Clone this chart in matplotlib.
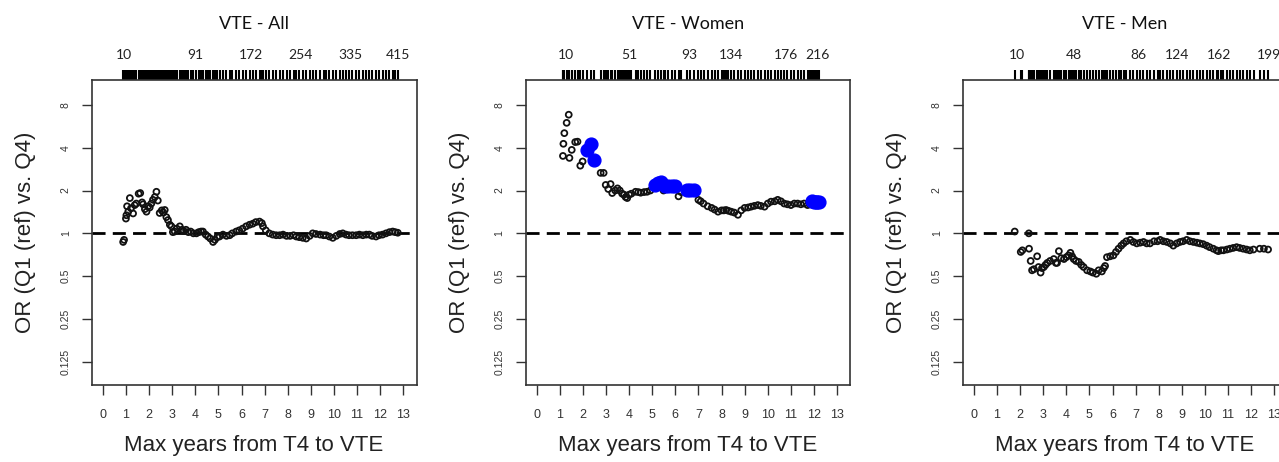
import matplotlib.pyplot as plt
import matplotlib.transforms as mtransforms
import numpy as np


# VTE - All : max years (x) and OR estimates (y)
all_years = [
    0.88, 0.92, 1.00, 1.02, 1.05, 1.10, 1.17, 1.22, 1.31, 1.38, 1.45, 1.55,
    1.62, 1.70, 1.74, 1.82, 1.89, 1.96, 2.03, 2.10, 2.17, 2.25, 2.32, 2.38,
    2.46, 2.55, 2.62, 2.68, 2.75, 2.82, 2.90, 2.97, 3.03, 3.11, 3.20, 3.33,
    3.42, 3.50, 3.60, 3.70, 3.80, 3.92, 4.05, 4.15, 4.25, 4.33, 4.45, 4.55,
    4.65, 4.77, 4.85, 4.95, 5.05, 5.20, 5.35, 5.49, 5.60, 5.77, 5.90, 6.05,
    6.20, 6.35, 6.49, 6.62, 6.78, 6.88, 6.93, 7.05, 7.20, 7.35, 7.50, 7.65,
    7.80, 7.95, 8.10, 8.25, 8.37, 8.50, 8.65, 8.80, 8.95, 9.08, 9.22, 9.40,
    9.55, 9.66, 9.80, 9.95, 10.10, 10.25, 10.38, 10.52, 10.65, 10.80, 10.96,
    11.10, 11.25, 11.40, 11.53, 11.65, 11.82, 11.95, 12.10, 12.25, 12.40,
    12.54, 12.65, 12.76
]
all_or = [
    0.87, 0.90, 1.27, 1.34, 1.55, 1.42, 1.77, 1.50, 1.38, 1.58, 1.62, 1.90,
    1.92, 1.65, 1.60, 1.48, 1.42, 1.55, 1.52, 1.62, 1.72, 1.80, 1.96, 1.70,
    1.39, 1.45, 1.40, 1.46, 1.30, 1.24, 1.15, 1.12, 1.02, 1.03, 1.08, 1.12,
    1.06, 1.04, 1.06, 1.02, 1.03, 1.00, 1.00, 1.02, 1.03, 1.03, 0.98, 0.95,
    0.92, 0.87, 0.90, 0.94, 0.95, 0.98, 0.96, 0.97, 1.00, 1.03, 1.05, 1.08,
    1.12, 1.15, 1.17, 1.20, 1.21, 1.18, 1.12, 1.05, 1.00, 0.98, 0.97, 0.97,
    0.98, 0.96, 0.96, 0.97, 0.95, 0.94, 0.93, 0.92, 0.96, 1.00, 0.99, 0.98,
    0.97, 0.97, 0.95, 0.93, 0.96, 0.99, 1.00, 0.98, 0.97, 0.97, 0.97,
    0.98, 0.97, 0.98, 0.98, 0.96, 0.95, 0.97, 0.98, 1.00, 1.02,
    1.03, 1.02, 1.01
]

# VTE - Women
women_years = [
    1.14, 1.16, 1.20, 1.30, 1.39, 1.42, 1.52, 1.67, 1.77, 1.89, 1.99, 2.77,
    2.90, 2.99, 3.10, 3.20, 3.27, 3.40, 3.50, 3.60, 3.70, 3.78, 3.85, 3.92,
    4.00, 4.10, 4.28, 4.40, 4.50, 4.65, 4.78, 4.92, 5.49, 6.14, 6.25, 7.00,
    7.10, 7.22, 7.40, 7.57, 7.70, 7.85, 8.00, 8.10, 8.20, 8.30, 8.42, 8.55,
    8.71, 8.85, 9.00, 9.15, 9.28, 9.42, 9.57, 9.70, 9.86, 10.00, 10.14,
    10.30, 10.43, 10.57, 10.71, 10.85, 11.00, 11.15, 11.29, 11.43, 11.57,
    11.72, 11.82
]
women_or = [
    3.50, 4.26, 5.06, 5.98, 6.82, 3.39, 3.86, 4.38, 4.41, 2.99, 3.20, 2.66,
    2.66, 2.19, 2.05, 2.22, 1.92, 2.00, 2.07, 2.00, 1.90, 1.87, 1.80, 1.77,
    1.87, 1.90, 1.96, 1.95, 1.93, 1.95, 1.96, 2.00, 2.00, 1.82, 1.95, 1.72,
    1.68, 1.62, 1.55, 1.51, 1.47, 1.42, 1.45, 1.45, 1.46, 1.44, 1.42, 1.40,
    1.35, 1.45, 1.51, 1.52, 1.54, 1.56, 1.58, 1.56, 1.54, 1.62, 1.67,
    1.68, 1.72, 1.68, 1.62, 1.60, 1.58, 1.62, 1.62, 1.60, 1.62,
    1.58, 1.60
]
# significant estimates (blue)
women_sig_years = [2.20, 2.35, 2.49, 5.14, 5.27, 5.39, 5.56, 5.70, 5.85, 5.99,
                   6.49, 6.64, 6.82, 11.93, 12.00, 12.07, 12.15, 12.22]
women_sig_or = [3.86, 4.23, 3.29, 2.19, 2.25, 2.28, 2.14, 2.14, 2.14, 2.14,
                2.01, 2.01, 2.03, 1.69, 1.66, 1.65, 1.65, 1.65]

# VTE - Men
men_years = [
    1.77, 2.03, 2.10, 2.38, 2.39, 2.46, 2.52, 2.60, 2.74, 2.80, 2.89, 2.95,
    3.03, 3.10, 3.18, 3.30, 3.46, 3.55, 3.60, 3.68, 3.78, 3.90, 4.00, 4.10,
    4.18, 4.25, 4.32, 4.42, 4.54, 4.65, 4.75, 4.90, 5.04, 5.15, 5.30, 5.40,
    5.54, 5.62, 5.68, 5.76, 5.90, 6.04, 6.15, 6.26, 6.38, 6.48, 6.60, 6.77,
    6.90, 7.05, 7.20, 7.34, 7.48, 7.62, 7.80, 7.95, 8.06, 8.20, 8.35, 8.50,
    8.63, 8.78, 8.92, 9.05, 9.21, 9.35, 9.50, 9.65, 9.78, 9.92, 10.07, 10.20,
    10.36, 10.50, 10.58, 10.70, 10.80, 10.95, 11.08, 11.22, 11.37, 11.50,
    11.65, 11.80, 11.94, 12.10, 12.37, 12.55, 12.73
]
men_or = [
    1.03, 0.74, 0.76, 1.00, 0.78, 0.64, 0.55, 0.56, 0.69, 0.58, 0.53, 0.57,
    0.58, 0.60, 0.62, 0.64, 0.66, 0.62, 0.62, 0.75, 0.67, 0.66, 0.68, 0.70,
    0.73, 0.69, 0.66, 0.64, 0.63, 0.60, 0.58, 0.55, 0.54, 0.53, 0.52, 0.55,
    0.54, 0.57, 0.59, 0.68, 0.69, 0.70, 0.74, 0.78, 0.82, 0.85, 0.88, 0.90,
    0.87, 0.85, 0.86, 0.87, 0.85, 0.85, 0.88, 0.88, 0.90, 0.88, 0.87, 0.85,
    0.82, 0.85, 0.87, 0.88, 0.90, 0.88, 0.87, 0.86, 0.85, 0.84, 0.82, 0.80,
    0.78, 0.76, 0.75, 0.76, 0.76, 0.77, 0.78, 0.79, 0.80, 0.79,
    0.78, 0.77, 0.76, 0.77, 0.78, 0.78, 0.77
]

# Top axis: cumulative number of events
all_top_at = [0.92, 3.99, 6.40, 8.56, 10.70, 12.79]
all_top_labels = ["10", "91", "172", "254", "335", "415"]
women_top_at = [1.29, 4.02, 6.61, 8.40, 10.78, 12.14]
women_top_labels = ["10", "51", "93", "134", "176", "216"]
men_top_at = [1.86, 4.31, 7.12, 8.80, 10.62, 12.75]
men_top_labels = ["10", "48", "86", "124", "162", "199"]

y_ticks = [0.125, 0.25, 0.5, 1, 2, 4, 8]
y_tick_labels = ["0.125", "0.25", "0.5", "1", "2", "4", "8"]
x_ticks = list(range(0, 14))


panels = [
    ("VTE - All", all_years, all_or, [], [], all_top_at, all_top_labels, 91.7),
    ("VTE - Women", women_years, women_or, women_sig_years, women_sig_or,
     women_top_at, women_top_labels, 525.5),
    ("VTE - Men", men_years, men_or, [], [], men_top_at, men_top_labels, 962.7),
]

fig = plt.figure(figsize=(12.79, 4.62), dpi=100)

for title, years, odds, sig_years, sig_odds, top_at, top_labels, left_px in panels:
    ax = fig.add_axes([left_px / 1279, 1 - 385 / 462, 324.8 / 1279, 305 / 462])

    ax.set_yscale("log", base=2)
    ax.set_xlim(-0.48, 13.57)
    ax.set_ylim(2 ** -3.54, 2 ** 3.58)

    # reference line at OR = 1
    ax.axhline(1, color="black", linewidth=2, linestyle=(0, (4.7, 2.6)), zorder=1)

    ax.scatter(years, odds, s=18, facecolors="none", edgecolors="#111111",
               linewidths=1.3, zorder=2)
    if sig_years:
        ax.scatter(sig_years, sig_odds, s=85, color="#0000ff", zorder=3)

    # rug of event times above the box
    rug_years = sorted(list(years) + list(sig_years))
    trans = mtransforms.blended_transform_factory(ax.transData, ax.transAxes)
    ax.vlines(rug_years, 1.0, 1.034, transform=trans, color="black",
              linewidth=1.5, clip_on=False)

    for pos, lab in zip(top_at, top_labels):
        ax.text(pos, 1.082, lab, transform=trans, ha="center", va="center",
                fontsize=10, family="Lato", color="#222222")

    ax.text(0.5, 1.185, title, transform=ax.transAxes, ha="center",
            va="center", fontsize=13, family="Lato", color="#111111")

    ax.set_xticks(x_ticks)
    ax.set_xticklabels([str(t) for t in x_ticks], fontsize=9,
                       family="Liberation Sans", color="#333333")
    ax.set_yticks(y_ticks)
    ax.set_yticklabels(y_tick_labels, fontsize=7.5, family="Liberation Sans",
                       color="#333333", rotation=90, va="center")
    ax.yaxis.set_minor_locator(plt.NullLocator())

    ax.tick_params(axis="x", direction="out", length=7, width=1,
                   color="#333333", pad=10)
    ax.tick_params(axis="y", direction="out", length=7, width=1,
                   color="#333333", pad=8)

    for spine in ax.spines.values():
        spine.set_color("#333333")
        spine.set_linewidth(1.2)

    ax.set_xlabel("Max years from T4 to VTE", fontsize=16,
                  family="Liberation Sans", color="#222222")
    ax.xaxis.set_label_coords(0.5, -0.165)
    ax.set_ylabel("OR (Q1 (ref) vs. Q4)", fontsize=16,
                  family="Liberation Sans", color="#222222")
    ax.yaxis.set_label_coords(-0.17, 0.5)

fig.savefig("out.png", dpi=100)
